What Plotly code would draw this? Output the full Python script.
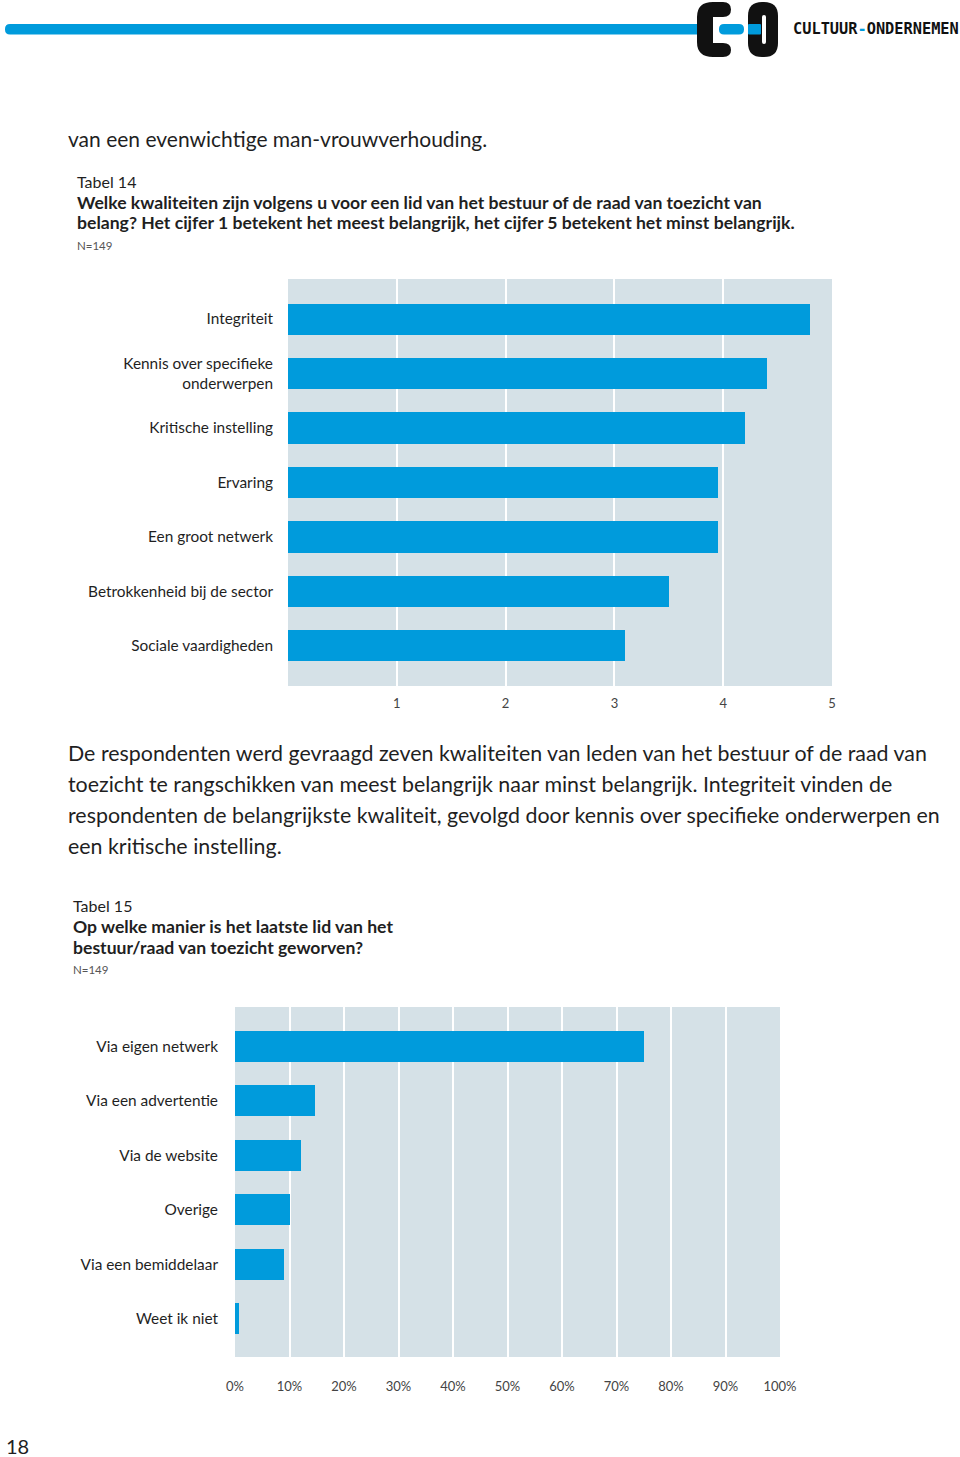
import plotly.graph_objects as go

# ---------------- data ----------------
qualities = ["Integriteit", "Kennis over specifieke<br>onderwerpen", "Kritische instelling",
             "Ervaring", "Een groot netwerk", "Betrokkenheid bij de sector", "Sociale vaardigheden"]
quality_scores = [4.80, 4.40, 4.20, 3.95, 3.95, 3.50, 3.10]
score_ticks = [1, 2, 3, 4, 5]

channels = ["Via eigen netwerk", "Via een advertentie", "Via de website", "Overige",
            "Via een bemiddelaar", "Weet ik niet"]
channel_shares = [75.0, 14.6, 12.2, 10.0, 8.9, 0.8]
share_ticks = [0, 10, 20, 30, 40, 50, 60, 70, 80, 90, 100]
share_tick_labels = ["0%", "10%", "20%", "30%", "40%", "50%", "60%", "70%", "80%", "90%", "100%"]

# ---------------- page helpers ----------------
W, H = 960, 1457
BLUE = "#009bdc"
GRAY_BG = "#d5e1e7"
TEXT = "#1f1f1f"
FONT = "Lato"


def px(x):
    return x / W


def py(y):
    return 1 - y / H


def rrect_path(x0, y0, x1, y1, r):
    pts = [
        ("M", (x0 + r, y0)), ("L", (x1 - r, y0)), ("Q", (x1, y0), (x1, y0 + r)),
        ("L", (x1, y1 - r)), ("Q", (x1, y1), (x1 - r, y1)), ("L", (x0 + r, y1)),
        ("Q", (x0, y1), (x0, y1 - r)), ("L", (x0, y0 + r)), ("Q", (x0, y0), (x0 + r, y0)),
    ]
    s = ""
    for p in pts:
        s += p[0] + " " + " ".join(f"{px(a):.5f},{py(b):.5f}" for a, b in p[1:]) + " "
    return s + "Z"


def poly_path(points):
    s = ""
    for i, item in enumerate(points):
        if item[0] == "Q":
            s += "Q " + " ".join(f"{px(a):.5f},{py(b):.5f}" for a, b in item[1:]) + " "
        else:
            a, b = item
            s += ("M " if i == 0 else "L ") + f"{px(a):.5f},{py(b):.5f} "
    return s + "Z"


fig = go.Figure()

fig.add_trace(go.Bar(x=quality_scores, y=qualities, orientation="h", marker_color=BLUE,
                     marker_line_width=0, width=0.57, xaxis="x", yaxis="y", showlegend=False))
fig.add_trace(go.Bar(x=channel_shares, y=channels, orientation="h", marker_color=BLUE,
                     marker_line_width=0, width=0.57, xaxis="x2", yaxis="y2", showlegend=False))

tickfont = dict(family=FONT, size=13, color="#444444")
catfont = dict(family=FONT, size=15.4, color=TEXT)

shapes = []


def add_path(path, color):
    shapes.append(dict(type="path", path=path, fillcolor=color, line_width=0,
                       xref="paper", yref="paper", layer="above"))


# top blue line
add_path(rrect_path(5, 24, 705, 34.5, 5), BLUE)
# logo C
add_path(poly_path([
    (713, 2), (723, 2), ("Q", (731, 2), (731, 9.5)), ("Q", (731, 17), (723, 17)),
    (713, 17), (713, 43), (723, 43), ("Q", (731, 43), (731, 50)), ("Q", (731, 57), (723, 57)),
    (713, 57), ("Q", (697, 57), (697, 42)), (697, 17), ("Q", (697, 2), (713, 2)),
]), "#111111")
# logo O
add_path(rrect_path(748, 2, 778, 57, 14), "#111111")
add_path(rrect_path(762, 15, 766, 44, 2), "white")
# blue dash pill and blue through the O
add_path(rrect_path(719, 24, 744, 34.5, 5), BLUE)
add_path(rrect_path(748, 24, 761, 34.5, 1), BLUE)

annotations = []


def text(x, y, s, size, color=TEXT, bold=False, anchor="left", family=FONT):
    annotations.append(dict(
        x=px(x), y=py(y), xref="paper", yref="paper", text=f"<b>{s}</b>" if bold else s,
        showarrow=False, xanchor=anchor, yanchor="middle", borderpad=0,
        font=dict(family=family, size=size, color=color)))


text(792, 29, "CULTUUR<span style='color:#009bdc'>-</span>ONDERNEMEN", 15.3, color="#111111",
     bold=True, family="DejaVu Sans Mono")

text(67, 138, "van een evenwichtige man-vrouwverhouding.", 21)
text(76, 181, "Tabel 14", 16)
text(76, 202, "Welke kwaliteiten zijn volgens u voor een lid van het bestuur of de raad van toezicht van", 17.6, bold=True)
text(76, 223, "belang? Het cijfer 1 betekent het meest belangrijk, het cijfer 5 betekent het minst belangrijk.", 17.6, bold=True)
text(76, 246, "N=149", 11.5, color="#555555")

para = [
    "De respondenten werd gevraagd zeven kwaliteiten van leden van het bestuur of de raad van",
    "toezicht te rangschikken van meest belangrijk naar minst belangrijk. Integriteit vinden de",
    "respondenten de belangrijkste kwaliteit, gevolgd door kennis over specifieke onderwerpen en",
    "een kritische instelling.",
]
for i, line in enumerate(para):
    text(67, 753 + 31 * i, line, 21.4)

text(72, 905, "Tabel 15", 16)
text(72, 926, "Op welke manier is het laatste lid van het", 17.6, bold=True)
text(72, 947, "bestuur/raad van toezicht geworven?", 17.6, bold=True)
text(72, 969, "N=149", 11.5, color="#555555")

text(5, 1446, "18", 20)

fig.update_layout(
    width=W, height=H, autosize=False,
    margin=dict(l=0, r=0, t=0, b=0, pad=0),
    paper_bgcolor="white", plot_bgcolor=GRAY_BG,
    bargap=0,
    shapes=shapes, annotations=annotations,
    xaxis=dict(domain=[px(288), px(832)], anchor="y", range=[0, 5], tickvals=score_ticks,
               showgrid=True, gridcolor="white", gridwidth=1.5, zeroline=False, showline=False,
               ticks="", tickfont=tickfont, ticklabelstandoff=8, fixedrange=True, automargin=False),
    yaxis=dict(domain=[py(686), py(279)], anchor="x", categoryorder="array", categoryarray=qualities,
               range=[6.735, -0.735], showgrid=False, zeroline=False, showline=False, ticks="",
               tickfont=catfont, ticklabelstandoff=14, fixedrange=True, automargin=False),
    xaxis2=dict(domain=[px(235), px(780)], anchor="y2", range=[0, 100], tickmode="array",
                tickvals=share_ticks, ticktext=share_tick_labels, showgrid=True, gridcolor="white",
                gridwidth=1.5, zeroline=False, showline=False, ticks="", tickfont=tickfont,
                ticklabelstandoff=20, fixedrange=True, automargin=False),
    yaxis2=dict(domain=[py(1357), py(1007)], anchor="x2", categoryorder="array", categoryarray=channels,
                range=[5.70, -0.72], showgrid=False, zeroline=False, showline=False, ticks="",
                tickfont=catfont, ticklabelstandoff=16, fixedrange=True, automargin=False),
)

fig.write_html("out.html", config={"displayModeBar": False},
               post_script="document.body.style.margin='0px';")
